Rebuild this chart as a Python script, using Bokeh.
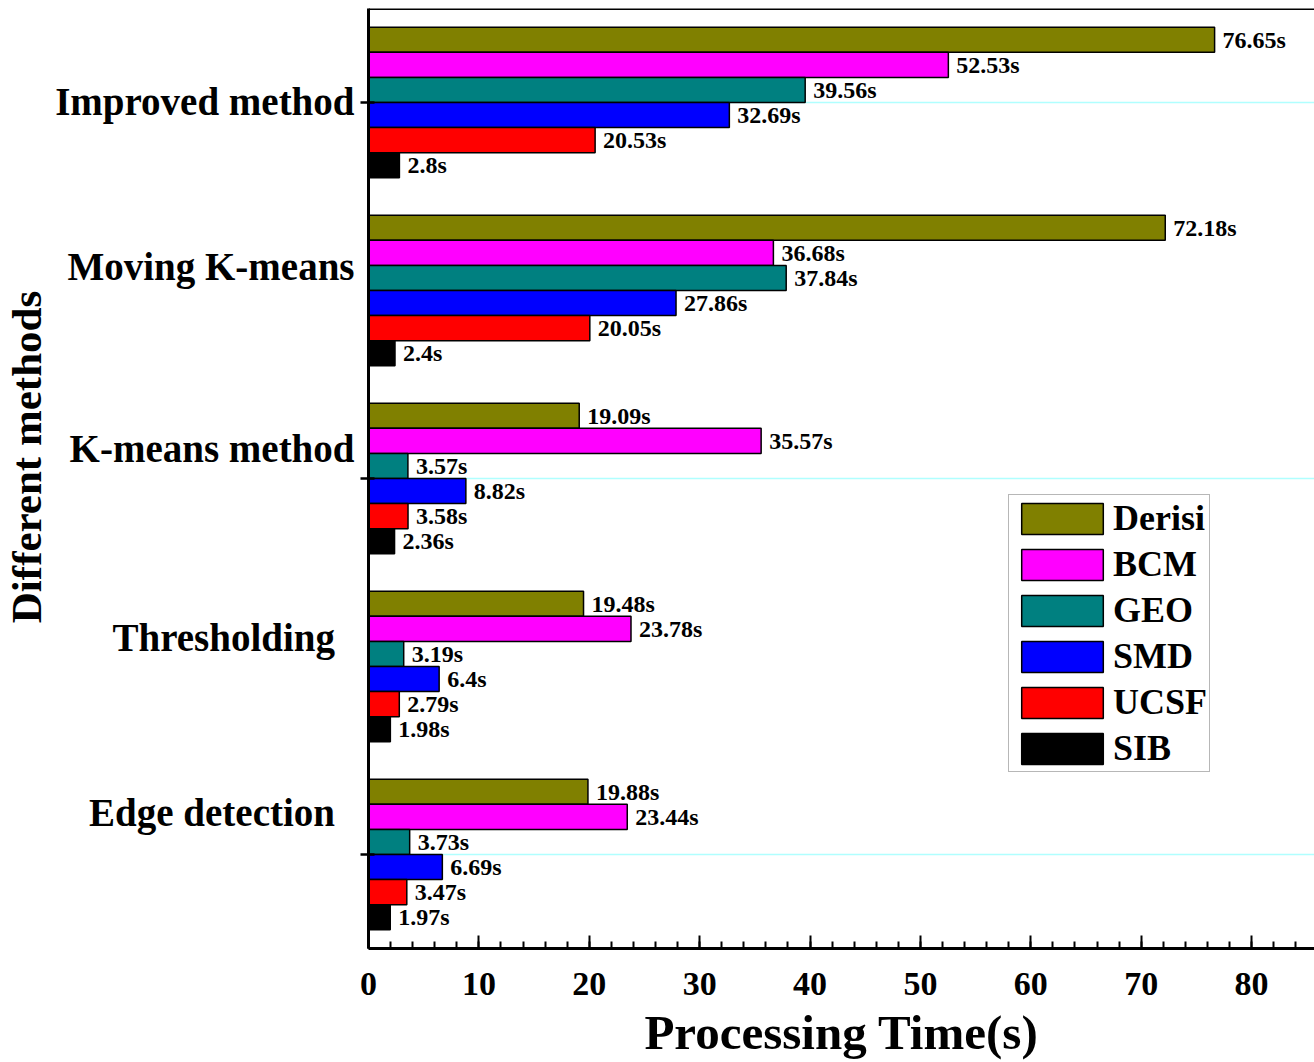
from bokeh.core.properties import value
from bokeh.embed import file_html
from bokeh.models import (ColumnDataSource, FixedTicker, Legend, LegendItem,
                          LinearAxis, Range1d, Span)
from bokeh.plotting import figure
from bokeh.resources import INLINE

# ---- data -------------------------------------------------------------
methods = ["Improved method", "Moving K-means", "K-means method",
           "Thresholding", "Edge detection"]
series = ["Derisi", "BCM", "GEO", "SMD", "UCSF", "SIB"]

derisi = [76.65, 72.18, 19.09, 19.48, 19.88]
bcm = [52.53, 36.68, 35.57, 23.78, 23.44]
geo = [39.56, 37.84, 3.57, 3.19, 3.73]
smd = [32.69, 27.86, 8.82, 6.4, 6.69]
ucsf = [20.53, 20.05, 3.58, 2.79, 3.47]
sib = [2.8, 2.4, 2.36, 1.98, 1.97]

x_ticks = [0, 10, 20, 30, 40, 50, 60, 70, 80]

# ---- style ------------------------------------------------------------
FONT = "Liberation Serif"
NBSP = "\u00a0"
colors = ["#808000", "#ff00ff", "#008080", "#0000ff", "#ff0000", "#000000"]
grid_color = "#b0ffff"

# name labels sit a little above each group centre (y units) and some
# are pulled left with trailing padding
label_lift = [0.005, 0.128, 0.16, 0.154, 0.223]
label_pad = [0, 0, 0, 2, 2]

n = len(methods)
group_h = 0.8
bar_h = group_h / len(series)

p = figure(width=1314, height=1062, output_backend="svg", toolbar_location=None,
           x_range=Range1d(0, 85.7), y_range=Range1d(-0.5, n - 0.5),
           min_border_left=368, min_border_right=0, min_border_top=8,
           min_border_bottom=114, background_fill_color="white",
           border_fill_color="white")
p.outline_line_color = None

all_values = [derisi, bcm, geo, smd, ucsf, sib]
legend_items = []
for j, (name, vals, col) in enumerate(zip(series, all_values, colors)):
    ys = [(n - 1 - i) + (2.5 - j) * bar_h for i in range(n)]
    src = ColumnDataSource(dict(y=ys, right=vals,
                                label=[f"{v:g}s" for v in vals]))
    r = p.hbar(y="y", left=0, right="right", height=bar_h, source=src,
               fill_color=col, line_color="black", line_width=1.5)
    p.text(x="right", y="y", text="label", source=src, x_offset=8,
           text_align="left", text_baseline="middle",
           text_font=value(FONT), text_font_style="bold",
           text_font_size="24px", text_color="black")
    legend_items.append(LegendItem(label=name, renderers=[r]))

# ---- axes ---------------------------------------------------------------
xa = p.xaxis[0]
xa.ticker = FixedTicker(ticks=x_ticks, minor_ticks=list(range(0, 86, 2)))
xa.axis_line_width = 3
xa.major_tick_in = 13
xa.major_tick_out = 0
xa.minor_tick_in = 7
xa.minor_tick_out = 0
xa.major_tick_line_width = 2
xa.minor_tick_line_width = 2
xa.major_label_text_font = FONT
xa.major_label_text_font_style = "bold"
xa.major_label_text_font_size = "34px"
xa.major_label_text_color = "black"
xa.major_label_standoff = 24
xa.axis_label = "Processing Time(s)"
xa.axis_label_text_font = FONT
xa.axis_label_text_font_style = "bold"
xa.axis_label_text_font_size = "49px"
xa.axis_label_text_color = "black"
xa.axis_label_standoff = 7

# inner left axis: the line and the tick marks every second group
ya = p.yaxis[0]
ya.ticker = FixedTicker(ticks=[0, 2, 4])
ya.major_label_overrides = {0: "", 2: "", 4: ""}
ya.major_label_standoff = 0
ya.axis_line_width = 3
ya.major_tick_in = 6
ya.major_tick_out = 8
ya.major_tick_line_width = 2.5
ya.minor_tick_line_color = None

# outer left axis: method names and the axis title
name_pos = [(n - 1 - i) + label_lift[i] for i in range(n)]
names_axis = LinearAxis(
    ticker=FixedTicker(ticks=name_pos),
    major_label_overrides={pos: m + NBSP * label_pad[i]
                           for i, (pos, m) in enumerate(zip(name_pos, methods))},
    major_label_orientation="horizontal",
    major_label_standoff=0,
    major_label_text_font=FONT, major_label_text_font_style="bold",
    major_label_text_font_size="39px", major_label_text_color="black",
    axis_line_color=None, major_tick_line_color=None,
    minor_tick_line_color=None,
    axis_label=NBSP * 4 + "Different methods",
    axis_label_standoff=2,
    axis_label_text_font=FONT, axis_label_text_font_style="bold",
    axis_label_text_font_size="43px", axis_label_text_color="black",
)
p.add_layout(names_axis, "left")

p.xgrid.visible = False
p.ygrid.grid_line_color = grid_color
p.ygrid.grid_line_width = 1.5

p.add_layout(Span(location=n - 0.5, dimension="width",
                  line_color="black", line_width=3))

legend = Legend(items=legend_items, location=(640, 176), orientation="vertical",
                padding=2, spacing=4, margin=0,
                glyph_width=102, glyph_height=39, label_height=39,
                label_standoff=0, label_text_font=FONT,
                label_text_font_style="bold", label_text_font_size="36px",
                label_text_color="black", border_line_color="#707070",
                border_line_width=1.5, background_fill_color="white",
                background_fill_alpha=1.0)
p.add_layout(legend)

open("out.html", "w").write(file_html(p, INLINE))
